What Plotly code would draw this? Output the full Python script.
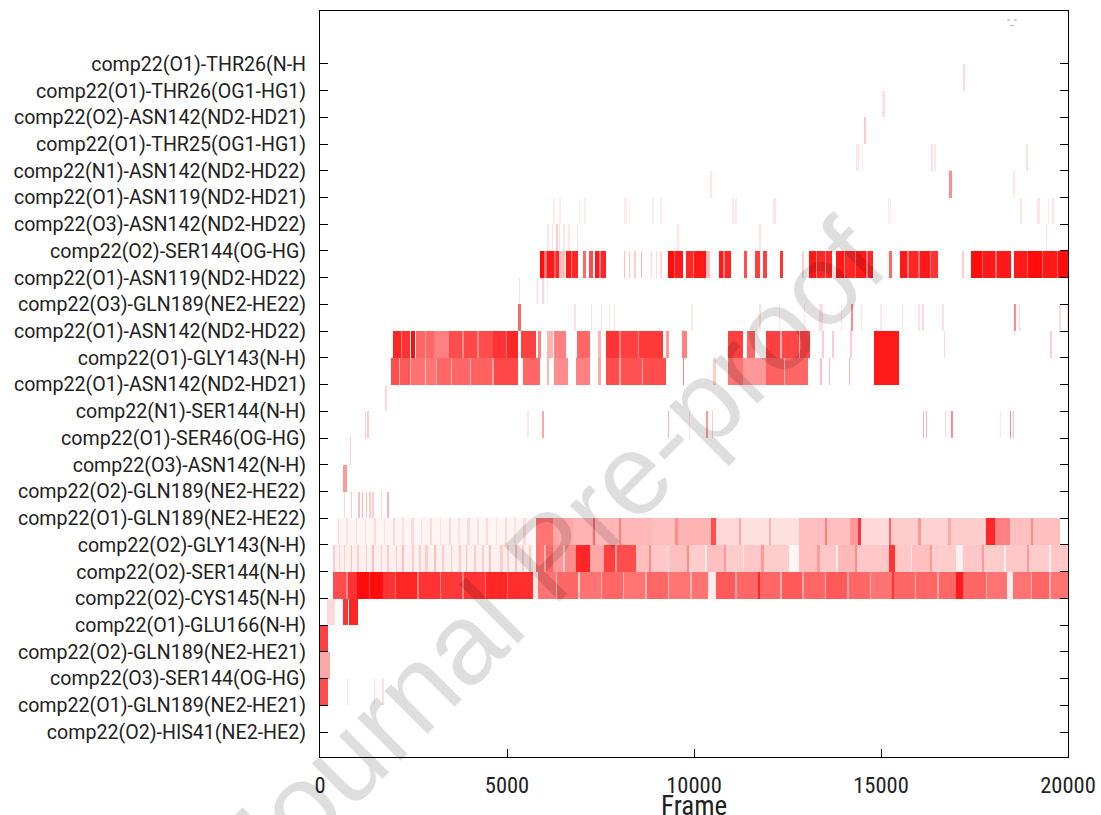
import numpy as np
import plotly.graph_objects as go

N_FRAMES = 20000
BIN = 20

# Contact names, bottom row first
labels = [
    "comp22(O2)-HIS41(NE2-HE2)",
    "comp22(O1)-GLN189(NE2-HE21)",
    "comp22(O3)-SER144(OG-HG)",
    "comp22(O2)-GLN189(NE2-HE21)",
    "comp22(O1)-GLU166(N-H)",
    "comp22(O2)-CYS145(N-H)",
    "comp22(O2)-SER144(N-H)",
    "comp22(O2)-GLY143(N-H)",
    "comp22(O1)-GLN189(NE2-HE22)",
    "comp22(O2)-GLN189(NE2-HE22)",
    "comp22(O3)-ASN142(N-H)",
    "comp22(O1)-SER46(OG-HG)",
    "comp22(N1)-SER144(N-H)",
    "comp22(O1)-ASN142(ND2-HD21)",
    "comp22(O1)-GLY143(N-H)",
    "comp22(O1)-ASN142(ND2-HD22)",
    "comp22(O3)-GLN189(NE2-HE22)",
    "comp22(O1)-ASN119(ND2-HD22)",
    "comp22(O2)-SER144(OG-HG)",
    "comp22(O3)-ASN142(ND2-HD22)",
    "comp22(O1)-ASN119(ND2-HD21)",
    "comp22(N1)-ASN142(ND2-HD22)",
    "comp22(O1)-THR25(OG1-HG1)",
    "comp22(O2)-ASN142(ND2-HD21)",
    "comp22(O1)-THR26(OG1-HG1)",
    "comp22(O1)-THR26(N-H",
]

# Hydrogen-bond presence per contact: (first frame, last frame, fraction present)
his41_o2 = []
gln189_o1_he21 = []
ser144_o3_og = [(0, 210, 0.7), (730, 760, 0.12), (1450, 1480, 0.12), (1670, 1700, 0.12)]
gln189_o2_he21 = [(0, 250, 0.35)]
glu166_o1 = [(0, 210, 0.75)]
cys145_o2 = [(210, 390, 0.15), (630, 740, 0.8), (790, 1010, 0.85)]
ser144_o2_nh = [
    (340, 700, 0.7), (700, 750, 0.45), (750, 1000, 0.8), (1000, 1300, 0.95), (1300, 1350, 0.7),
    (1350, 1670, 0.95), (1670, 2000, 0.8), (2000, 2050, 0.55), (2050, 2600, 0.85),
    (2600, 2650, 0.5), (2650, 3200, 0.8), (3200, 3250, 0.5), (3250, 3800, 0.78),
    (3800, 3850, 0.5), (3850, 4400, 0.8), (4400, 4450, 0.55), (4450, 5000, 0.85),
    (5000, 5050, 0.55), (5050, 5690, 0.82), (5690, 5830, 0.1),
    (5830, 6300, 0.55), (6300, 6350, 0.25), (6350, 6900, 0.6), (6900, 6950, 0.2),
    (6950, 7500, 0.55), (7500, 7550, 0.3), (7550, 8100, 0.6), (8100, 8150, 0.25),
    (8150, 8700, 0.55), (8700, 8750, 0.3), (8750, 9300, 0.6), (9300, 9350, 0.25),
    (9350, 9900, 0.55), (9900, 9950, 0.3), (9950, 10370, 0.55), (10370, 10600, 0.08),
    (10600, 11100, 0.65), (11100, 11150, 0.35), (11150, 11700, 0.6), (11700, 11750, 0.85),
    (11750, 12300, 0.6), (12300, 12350, 0.3), (12350, 12900, 0.65), (12900, 12950, 0.35),
    (12950, 13500, 0.6), (13500, 13550, 0.3), (13550, 14100, 0.65), (14100, 14150, 0.35),
    (14150, 14700, 0.6), (14700, 14750, 0.3), (14750, 15300, 0.55), (15300, 15350, 0.8),
    (15350, 15900, 0.6), (15900, 15950, 0.3), (15950, 16500, 0.6), (16500, 16550, 0.35),
    (16550, 17010, 0.6), (17010, 17190, 0.9), (17190, 17800, 0.6), (17800, 17850, 0.3),
    (17850, 18350, 0.55), (18350, 18530, 0.08), (18530, 19000, 0.55), (19000, 19050, 0.3),
    (19050, 19500, 0.6), (19500, 19550, 0.3), (19550, 20000, 0.55),
]
gly143_o2 = [
    (340, 5690, 0.06),
    (340, 400, 0.2), (500, 540, 0.15), (640, 680, 0.2), (820, 860, 0.25), (1000, 1040, 0.2),
    (1220, 1260, 0.2), (1400, 1440, 0.25), (1620, 1660, 0.2), (1800, 1840, 0.2),
    (2020, 2060, 0.2), (2200, 2240, 0.25), (2470, 2510, 0.2), (2650, 2690, 0.2),
    (2830, 2870, 0.2), (3050, 3090, 0.25), (3270, 3310, 0.2), (3500, 3540, 0.2),
    (3720, 3760, 0.2), (3900, 3940, 0.25), (4120, 4160, 0.2), (4340, 4380, 0.2),
    (4520, 4560, 0.25), (4830, 4870, 0.2), (5010, 5050, 0.2), (5230, 5270, 0.25),
    (5410, 5450, 0.2), (5590, 5630, 0.2),
    (5780, 6000, 0.55), (6000, 6050, 0.3), (6050, 6230, 0.6), (6230, 6500, 0.4),
    (6500, 6550, 0.2), (6550, 6850, 0.45), (6850, 7210, 0.85), (7210, 7610, 0.35),
    (7610, 7900, 0.75), (7900, 7950, 0.4), (7950, 8460, 0.7),
    (8460, 8800, 0.25), (8800, 8850, 0.45), (8850, 9300, 0.22), (9300, 9350, 0.1),
    (9350, 9800, 0.25), (9800, 9850, 0.45), (9850, 10300, 0.2), (10300, 10350, 0.08),
    (10350, 10800, 0.25), (10800, 10850, 0.4), (10850, 11300, 0.2), (11300, 11350, 0.08),
    (11350, 11800, 0.22), (11800, 11850, 0.4), (11850, 12540, 0.2), (12540, 12820, 0.04),
    (12820, 13300, 0.25), (13300, 13350, 0.4), (13350, 13800, 0.22), (13800, 13850, 0.08),
    (13850, 14300, 0.28), (14300, 14350, 0.45), (14350, 15230, 0.22), (15230, 15370, 0.8),
    (15370, 15800, 0.22), (15800, 15850, 0.08), (15850, 16300, 0.25), (16300, 16350, 0.4),
    (16350, 17000, 0.2), (17000, 17190, 0.06), (17190, 17700, 0.22), (17700, 17750, 0.4),
    (17750, 18300, 0.2), (18300, 18350, 0.06), (18350, 18900, 0.22), (18900, 18950, 0.4),
    (18950, 19500, 0.2), (19500, 19550, 0.08), (19550, 20000, 0.22),
]
gln189_o1_he22 = [
    (470, 5690, 0.04),
    (480, 520, 0.15), (700, 740, 0.12), (960, 1000, 0.15), (1200, 1240, 0.12),
    (1450, 1490, 0.15), (1700, 1740, 0.12), (1960, 2000, 0.15), (2200, 2240, 0.12),
    (2450, 2490, 0.15), (2700, 2740, 0.12), (2950, 2990, 0.15), (3200, 3240, 0.12),
    (3460, 3500, 0.15), (3700, 3740, 0.12), (3950, 3990, 0.15), (4200, 4240, 0.12),
    (4450, 4490, 0.15), (4700, 4740, 0.12), (4950, 4990, 0.15), (5200, 5240, 0.12),
    (5450, 5490, 0.15),
    (5780, 6230, 0.55), (6230, 6760, 0.35), (6760, 7300, 0.3), (7300, 7350, 0.6),
    (7350, 8000, 0.28), (8000, 8050, 0.5), (8050, 8900, 0.28), (8900, 9500, 0.25),
    (9500, 9550, 0.45), (9550, 10460, 0.3), (10460, 10600, 0.7),
    (10600, 11200, 0.15), (11200, 11250, 0.35), (11250, 12000, 0.12), (12000, 12050, 0.3),
    (12050, 12820, 0.12), (12820, 13500, 0.25), (13500, 13550, 0.5), (13550, 14160, 0.25),
    (14160, 14380, 0.4), (14380, 14450, 0.8), (14450, 15230, 0.15), (15230, 15280, 0.6),
    (15280, 16000, 0.2), (16000, 16050, 0.4), (16050, 16800, 0.18), (16800, 16850, 0.35),
    (16850, 17810, 0.2), (17810, 18040, 0.85), (18040, 18440, 0.5), (18440, 19000, 0.25),
    (19000, 19050, 0.45), (19050, 19780, 0.25),
]
gln189_o2_he22 = [(640, 670, 0.15), (820, 850, 0.2), (1030, 1060, 0.25), (1130, 1160, 0.3),
                  (1230, 1260, 0.25), (1320, 1350, 0.2), (1400, 1430, 0.2), (1630, 1660, 0.15),
                  (1800, 1830, 0.3)]
asn142_o3_nh = [(630, 720, 0.4)]
ser46_o1 = [(810, 840, 0.2)]
ser144_n1_nh = [(1210, 1240, 0.2), (1270, 1300, 0.2), (5540, 5570, 0.1), (5940, 5970, 0.35),
                (9310, 9340, 0.3), (9860, 9890, 0.12), (10330, 10370, 0.4), (10480, 10510, 0.2),
                (16130, 16160, 0.3), (16200, 16230, 0.3), (16700, 16730, 0.15),
                (16880, 16920, 0.45), (18190, 18220, 0.1), (18440, 18470, 0.45),
                (18520, 18550, 0.25)]
asn142_o1_hd21 = [(1750, 1790, 0.15)]
gly143_o1 = [
    (1900, 2100, 0.7), (2100, 2150, 0.3), (2150, 2400, 0.65), (2400, 2450, 0.3),
    (2450, 2800, 0.55), (2800, 2850, 0.25), (2850, 3100, 0.55), (3100, 3150, 0.3),
    (3150, 3500, 0.6), (3500, 3550, 0.3), (3550, 4000, 0.6), (4000, 4050, 0.3),
    (4050, 4600, 0.62), (4600, 4650, 0.35), (4650, 5290, 0.72), (5420, 5870, 0.6),
    (6080, 6120, 0.3), (6270, 6620, 0.45), (6850, 7210, 0.5), (7450, 7490, 0.35),
    (7650, 8000, 0.7), (8000, 8050, 0.35), (8050, 8600, 0.68), (8600, 8650, 0.35),
    (8650, 9260, 0.7), (9700, 9740, 0.5), (10530, 10570, 0.2), (10900, 11300, 0.55),
    (11300, 11930, 0.4), (11930, 12400, 0.62), (12400, 12450, 0.3), (12450, 13040, 0.6),
    (13380, 13420, 0.25), (13600, 13640, 0.25), (14140, 14180, 0.3), (14830, 15480, 0.9),
]
asn142_o1_hd22 = [
    (1950, 2150, 0.85), (2150, 2190, 0.5), (2190, 2390, 0.8), (2440, 2530, 0.95),
    (2570, 2800, 0.6), (2800, 2850, 0.35), (2850, 3060, 0.6), (3060, 3460, 0.5),
    (3460, 3800, 0.7), (3800, 3850, 0.45), (3850, 4200, 0.72), (4200, 4250, 0.45),
    (4250, 4620, 0.7), (4620, 4950, 0.8), (4950, 5000, 0.5), (5000, 5290, 0.85),
    (5380, 5780, 0.75), (5820, 5920, 0.5), (6080, 6220, 0.3), (6270, 6580, 0.5),
    (6890, 7210, 0.6), (7450, 7490, 0.3), (7650, 8000, 0.8), (8000, 8050, 0.45),
    (8050, 8500, 0.75), (8500, 8550, 0.45), (8550, 9170, 0.78), (9270, 9310, 0.4),
    (9690, 9790, 0.5), (10900, 11310, 0.75), (11430, 11620, 0.6), (11930, 12300, 0.75),
    (12300, 12350, 0.3), (12350, 12800, 0.72), (12800, 12850, 0.3), (12850, 13090, 0.72),
    (13430, 13470, 0.2), (13690, 13730, 0.2), (14180, 14220, 0.2), (14830, 15480, 0.9),
    (16680, 16720, 0.15), (19530, 19570, 0.2),
]
gln189_o3_he22 = [(5310, 5370, 0.6), (6800, 6830, 0.12), (7240, 7270, 0.12), (7510, 7540, 0.12),
                  (7730, 7760, 0.1), (7870, 7900, 0.12), (9920, 9950, 0.1), (11740, 11770, 0.12),
                  (12270, 12300, 0.1), (12940, 12970, 0.1), (13350, 13450, 0.12),
                  (13930, 13960, 0.1), (14210, 14240, 0.45), (14460, 14490, 0.12),
                  (14990, 15020, 0.1), (15570, 15600, 0.12), (16010, 16040, 0.12),
                  (16100, 16130, 0.15), (16640, 16670, 0.12), (18560, 18600, 0.45),
                  (18690, 18720, 0.15), (19760, 19790, 0.15), (19960, 20000, 0.15)]
asn119_o1_hd22 = [(5320, 5350, 0.12), (5810, 5840, 0.15), (5950, 5980, 0.15), (6060, 6090, 0.1)]
ser144_o2_og = [
    (5890, 6000, 0.95), (6000, 6060, 0.55), (6060, 6250, 0.9), (6250, 6300, 0.6),
    (6300, 6400, 0.85), (6400, 6560, 0.25), (6580, 6700, 0.9), (6700, 6750, 0.5),
    (6750, 6900, 0.85), (7020, 7120, 0.6), (7180, 7290, 0.7), (7340, 7450, 0.9),
    (7450, 7500, 0.5), (7500, 7630, 0.85),
    (8130, 8160, 0.25), (8270, 8300, 0.2), (8400, 8430, 0.2), (8580, 8610, 0.3),
    (8850, 8880, 0.15), (8980, 9010, 0.15), (9110, 9140, 0.15),
    (9300, 9450, 0.95), (9450, 9500, 0.6), (9500, 9690, 0.9), (9790, 9950, 0.85),
    (9950, 10000, 0.5), (10000, 10310, 0.9), (10310, 10440, 0.25),
    (10660, 10780, 0.9), (10780, 10830, 0.5), (10830, 11000, 0.85),
    (11350, 11410, 0.7), (11620, 11750, 0.75), (11840, 11950, 0.75), (12310, 12380, 0.8),
    (12900, 12930, 0.2),
    (13090, 13250, 0.9), (13250, 13300, 0.5), (13300, 13500, 0.85), (13500, 13550, 0.45),
    (13550, 13670, 0.85), (13800, 14000, 0.9), (14000, 14050, 0.5), (14050, 14300, 0.85),
    (14300, 14350, 0.55), (14350, 14600, 0.9), (14600, 14650, 0.5), (14650, 14780, 0.85),
    (15230, 15290, 0.6),
    (15500, 15700, 0.9), (15700, 15750, 0.5), (15750, 16000, 0.85), (16000, 16050, 0.55),
    (16050, 16300, 0.9), (16300, 16350, 0.5), (16350, 16520, 0.8),
    (17170, 17210, 0.2),
    (17410, 17700, 0.95), (17700, 17750, 0.6), (17750, 18050, 0.9), (18050, 18100, 0.55),
    (18100, 18480, 0.9), (18570, 18900, 0.9), (18900, 18950, 0.6), (18950, 19300, 0.95),
    (19300, 19350, 0.6), (19350, 19700, 0.9), (19700, 19750, 0.6), (19750, 20000, 0.95),
]
asn142_o3_hd22 = [(6080, 6110, 0.1), (6210, 6240, 0.12), (6300, 6360, 0.2), (6390, 6420, 0.12),
                  (6500, 6540, 0.1), (6640, 6670, 0.1), (6870, 6900, 0.12), (9550, 9590, 0.1),
                  (11750, 11790, 0.1), (19400, 19430, 0.12)]
asn119_o1_hd21 = [(6240, 6270, 0.08), (6400, 6440, 0.08), (6920, 6960, 0.08), (7070, 7110, 0.08),
                  (8150, 8190, 0.08), (8260, 8300, 0.08), (8880, 8920, 0.08), (9100, 9140, 0.08),
                  (11020, 11060, 0.1), (11110, 11150, 0.1), (12130, 12170, 0.1),
                  (15180, 15220, 0.1), (15240, 15280, 0.08), (18730, 18770, 0.1),
                  (19190, 19230, 0.1), (19460, 19500, 0.1), (19570, 19610, 0.1)]
asn142_n1_hd22 = [(10440, 10480, 0.1), (16820, 16900, 0.45), (18530, 18570, 0.1)]
thr25_o1 = [(14350, 14400, 0.1), (14480, 14520, 0.08), (16340, 16380, 0.12),
            (16430, 16470, 0.1), (18880, 18920, 0.12)]
asn142_o2_hd21 = [(14550, 14600, 0.22)]
thr26_o1_og1 = [(15050, 15100, 0.12)]
thr26_o1_nh = [(17180, 17240, 0.15)]

occupancy = [
    his41_o2, gln189_o1_he21, ser144_o3_og, gln189_o2_he21, glu166_o1, cys145_o2,
    ser144_o2_nh, gly143_o2, gln189_o1_he22, gln189_o2_he22, asn142_o3_nh, ser46_o1,
    ser144_n1_nh, asn142_o1_hd21, gly143_o1, asn142_o1_hd22, gln189_o3_he22,
    asn119_o1_hd22, ser144_o2_og, asn142_o3_hd22, asn119_o1_hd21, asn142_n1_hd22,
    thr25_o1, asn142_o2_hd21, thr26_o1_og1, thr26_o1_nh,
]

x_ticks = [0, 5000, 10000, 15000, 20000]

# Bin the frame ranges into a grid for the heatmap
n_bins = N_FRAMES // BIN
x_centers = np.arange(n_bins) * BIN + BIN / 2
z = np.zeros((len(labels), n_bins))
for row, segs in enumerate(occupancy):
    for first, last, frac in segs:
        i0 = int(first // BIN)
        i1 = max(i0 + 1, int(np.ceil(last / BIN)))
        z[row, i0:i1] = np.maximum(z[row, i0:i1], frac)

# each contact's band sits just below its tick
y_centers = np.arange(len(labels)) - 0.5

fig = go.Figure(go.Heatmap(
    x=x_centers, y=y_centers, z=z,
    zmin=0, zmax=1,
    colorscale=[[0, "#ffffff"], [1, "#ff0000"]],
    showscale=False, hoverinfo="skip",
))

label_font = "Roboto, 'Noto Sans', sans-serif"
cond_font = "'Roboto Condensed', 'Liberation Sans Narrow', 'DejaVu Sans Condensed', Roboto, sans-serif"

fig.update_layout(
    width=1101, height=815,
    margin=dict(l=320, r=33, t=11, b=58),
    paper_bgcolor="white", plot_bgcolor="white",
    xaxis=dict(
        range=[0, N_FRAMES], tickvals=x_ticks, ticktext=[str(v) for v in x_ticks],
        ticks="inside", ticklen=8, tickcolor="black", tickwidth=1,
        showline=True, linecolor="black", linewidth=1, mirror=True,
        showgrid=False, zeroline=False, automargin=False,
        tickfont=dict(family=cond_font, size=22.5, color="#222"),
        ticklabelstandoff=8,
    ),
    yaxis=dict(
        range=[-0.935, 26.98], tickvals=list(range(len(labels))), ticktext=labels,
        ticks="inside", ticklen=8, tickcolor="black", tickwidth=1,
        showline=True, linecolor="black", linewidth=1, mirror="ticks",
        showgrid=False, zeroline=False, automargin=False,
        tickfont=dict(family=label_font, size=19.6, color="#222"),
        ticklabelstandoff=9,
    ),
    annotations=[
        # x-axis title, set tight against the bottom edge
        dict(text="Frame", xref="paper", yref="paper", x=0.5, y=-0.0652,
             xanchor="center", yanchor="middle", showarrow=False,
             font=dict(family=cond_font, size=27, color="#222")),
        dict(text="Journal Pre-proof", xref="paper", yref="paper", x=0.307, y=0.271,
             xanchor="center", yanchor="middle", textangle=-45, showarrow=False,
             font=dict(family="'Liberation Sans', Arial, sans-serif", size=115,
                       color="rgba(0,0,0,0.13)")),
        dict(text='"_"', xref="paper", yref="paper", x=0.925, y=0.985,
             xanchor="center", yanchor="middle", showarrow=False,
             font=dict(family="'DejaVu Sans', sans-serif", size=7, color="#888")),
    ],
)

fig.write_html("out.html")
